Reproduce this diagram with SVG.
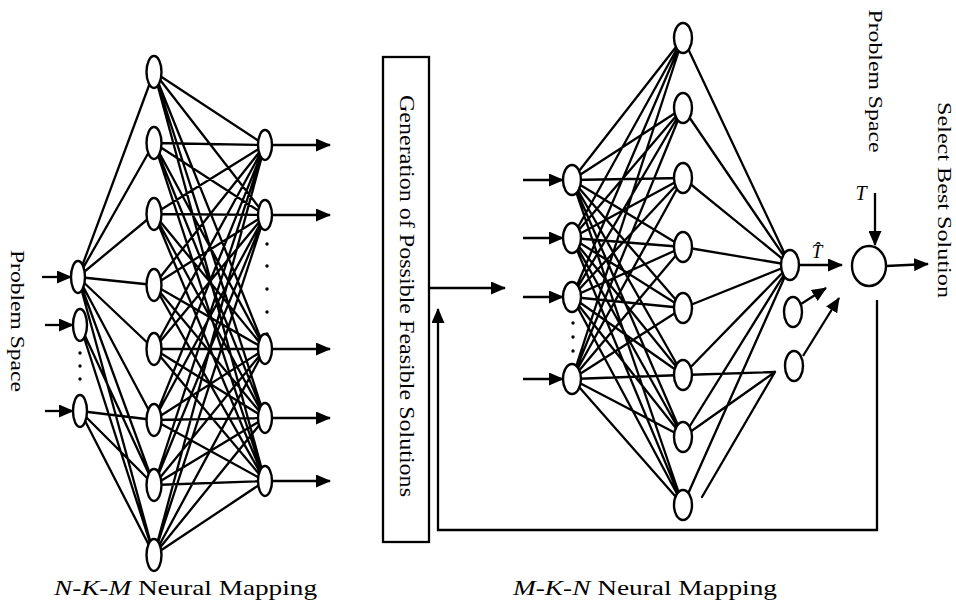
<svg xmlns="http://www.w3.org/2000/svg" width="956" height="603" viewBox="0 0 956 603">
<style>
.e{fill:none;stroke:#000;stroke-width:2.3;stroke-linecap:round}
.a{fill:none;stroke:#000;stroke-width:2.3;marker-end:url(#ah)}
.n{fill:#fff;stroke:#000;stroke-width:2.4}
.t{font-family:"Liberation Serif","Times New Roman",serif;fill:#000}
.d{fill:#000}
</style>
<defs>
<marker id="ah" markerUnits="userSpaceOnUse" markerWidth="15" markerHeight="13" refX="14" refY="6.5" orient="auto">
<path d="M0,0 L15,6.5 L0,13 z" fill="#000"/>
</marker>
</defs>
<rect width="956" height="603" fill="#fff"/>
<g id="connectors">
<path class="e" d="M78 277L154 72M78 277L154 143M78 277L154 214M78 277L154 285M78 277L154 349M78 277L154 420M78 277L154 485M78 277L154 555M80 325L154 485M80 325L154 555M80 411L154 420M80 411L154 485M80 411L154 555"/>
<path class="e" d="M154 72L265 145M154 72L265 215M154 72L265 349M154 72L265 418M154 72L265 481
M154 143L265 145M154 143L265 215M154 143L265 349M154 143L265 418M154 143L265 481
M154 214L265 145M154 214L265 215M154 214L265 349M154 214L265 418M154 214L265 481
M154 285L265 145M154 285L265 215M154 285L265 349M154 285L265 418M154 285L265 481
M154 349L265 145M154 349L265 215M154 349L265 349M154 349L265 418M154 349L265 481
M154 420L265 145M154 420L265 215M154 420L265 349M154 420L265 418M154 420L265 481
M154 485L265 145M154 485L265 215M154 485L265 349M154 485L265 418M154 485L265 481
M154 555L265 145M154 555L265 215M154 555L265 349M154 555L265 418M154 555L265 481"/>
<path class="a" d="M42 277H71"/>
<path class="a" d="M45 325H73"/>
<path class="a" d="M45 411H73"/>
<path class="a" d="M272 145H330"/>
<path class="a" d="M272 215H330"/>
<path class="a" d="M272 349H330"/>
<path class="a" d="M272 418H330"/>
<path class="a" d="M272 481H330"/>
<path class="a" d="M429 288H505"/>
<path class="e" d="M572 180L683 38M572 180L683 108M572 180L683 178M572 180L683 247M572 180L683 308M572 180L683 375M572 180L683 437M572 180L683 505
M572 238L683 38M572 238L683 108M572 238L683 178M572 238L683 247M572 238L683 308M572 238L683 375M572 238L683 437M572 238L683 505
M572 297L683 38M572 297L683 108M572 297L683 178M572 297L683 247M572 297L683 308M572 297L683 375M572 297L683 437M572 297L683 505
M572 379L683 38M572 379L683 108M572 379L683 178M572 379L683 247M572 379L683 308M572 379L683 375M572 379L683 437M572 379L683 505"/>
<path class="e" d="M683 38L790 265M683 108L790 265M683 178L790 265M683 247L790 265M683 308L790 265M683 375L790 265M683 437L790 265M683 505L790 265
M683 375L775 372M683 437L775 372M702 497L775 372"/>
<path class="a" d="M523 180H563"/>
<path class="a" d="M523 238H563"/>
<path class="a" d="M523 297H563"/>
<path class="a" d="M523 379H563"/>
<path class="a" d="M799 265H842"/>
<path class="a" d="M801 304L826 288"/>
<path class="a" d="M803 356L839 298"/>
<path class="a" d="M875 193V245"/>
<path class="a" d="M886 266L928 264"/>
<path class="a" d="M877 300V530H438V309"/>
</g>
<g id="left-inputs">
<g id="in1"><ellipse class="n" cx="78" cy="277" rx="7" ry="16"/></g>
<g id="in2"><ellipse class="n" cx="80" cy="325" rx="7" ry="16"/></g>
<g id="in3"><ellipse class="n" cx="80" cy="411" rx="7" ry="16"/></g>
<g id="in-dots"><circle class="d" cx="80" cy="353" r="1.7"/><circle class="d" cx="80" cy="366" r="1.7"/><circle class="d" cx="80" cy="379" r="1.7"/></g>
</g>
<g id="left-hidden">
<g id="h1"><ellipse class="n" cx="154" cy="72" rx="7.5" ry="16"/></g>
<g id="h2"><ellipse class="n" cx="154" cy="143" rx="7.5" ry="16"/></g>
<g id="h3"><ellipse class="n" cx="154" cy="214" rx="7.5" ry="16"/></g>
<g id="h4"><ellipse class="n" cx="154" cy="285" rx="7.5" ry="16"/></g>
<g id="h5"><ellipse class="n" cx="154" cy="349" rx="7.5" ry="16"/></g>
<g id="h6"><ellipse class="n" cx="154" cy="420" rx="7.5" ry="16"/></g>
<g id="h7"><ellipse class="n" cx="154" cy="485" rx="7.5" ry="16"/></g>
<g id="h8"><ellipse class="n" cx="154" cy="555" rx="7.5" ry="16"/></g>
</g>
<g id="left-outputs">
<g id="o1"><ellipse class="n" cx="265" cy="145" rx="7" ry="15"/></g>
<g id="o2"><ellipse class="n" cx="265" cy="215" rx="7" ry="15"/></g>
<g id="o3"><ellipse class="n" cx="265" cy="349" rx="7" ry="15"/></g>
<g id="o4"><ellipse class="n" cx="265" cy="418" rx="7" ry="15"/></g>
<g id="o5"><ellipse class="n" cx="265" cy="481" rx="7" ry="15"/></g>
<g id="out-dots"><circle class="d" cx="267" cy="244" r="1.7"/><circle class="d" cx="267" cy="266" r="1.7"/><circle class="d" cx="267" cy="289" r="1.7"/><circle class="d" cx="267" cy="312" r="1.7"/><circle class="d" cx="267" cy="334" r="1.7"/></g>
</g>
<g id="generator">
<rect x="383" y="57" width="46" height="485" fill="#fff" stroke="#000" stroke-width="2.3"/>
<text class="t" transform="translate(400,296) rotate(90)" text-anchor="middle" font-size="20" textLength="402" lengthAdjust="spacingAndGlyphs">Generation of Possible Feasible Solutions</text>
</g>
<g id="right-inputs">
<g id="ri1"><ellipse class="n" cx="572" cy="180" rx="9" ry="15"/></g>
<g id="ri2"><ellipse class="n" cx="572" cy="238" rx="9" ry="15"/></g>
<g id="ri3"><ellipse class="n" cx="572" cy="297" rx="9" ry="15"/></g>
<g id="ri4"><ellipse class="n" cx="572" cy="379" rx="9" ry="15"/></g>
<g id="ri-dots"><circle class="d" cx="573" cy="323" r="1.7"/><circle class="d" cx="573" cy="337" r="1.7"/><circle class="d" cx="573" cy="351" r="1.7"/></g>
</g>
<g id="right-hidden">
<g id="rh1"><ellipse class="n" cx="683" cy="38" rx="9" ry="15"/></g>
<g id="rh2"><ellipse class="n" cx="683" cy="108" rx="9" ry="15"/></g>
<g id="rh3"><ellipse class="n" cx="683" cy="178" rx="9" ry="15"/></g>
<g id="rh4"><ellipse class="n" cx="683" cy="247" rx="9" ry="15"/></g>
<g id="rh5"><ellipse class="n" cx="683" cy="308" rx="9" ry="15"/></g>
<g id="rh6"><ellipse class="n" cx="683" cy="375" rx="9" ry="15"/></g>
<g id="rh7"><ellipse class="n" cx="683" cy="437" rx="9" ry="15"/></g>
<g id="rh8"><ellipse class="n" cx="683" cy="505" rx="9" ry="15"/></g>
</g>
<g id="right-outputs">
<g id="ro1"><ellipse class="n" cx="790" cy="265" rx="9" ry="15"/></g>
<g id="ro2"><ellipse class="n" cx="793" cy="312" rx="9" ry="15"/></g>
<g id="ro3"><ellipse class="n" cx="794" cy="366" rx="9" ry="15"/></g>
</g>
<g id="selector">
<ellipse class="n" cx="869" cy="266" rx="17" ry="20"/>
</g>
<g id="labels">
<text class="t" x="817" y="258" font-size="19" font-style="italic" text-anchor="middle">T&#x302;</text>
<text class="t" x="861" y="200" font-size="20" font-style="italic" text-anchor="middle">T</text>
<text class="t" transform="translate(11,321) rotate(90)" text-anchor="middle" font-size="18" textLength="142" lengthAdjust="spacingAndGlyphs">Problem Space</text>
<text class="t" transform="translate(869,81) rotate(90)" text-anchor="middle" font-size="18" textLength="143" lengthAdjust="spacingAndGlyphs">Problem Space</text>
<text class="t" transform="translate(938,200) rotate(90)" text-anchor="middle" font-size="18" textLength="196" lengthAdjust="spacingAndGlyphs">Select Best Solution</text>
<text class="t" x="54" y="595" font-size="22" textLength="263" lengthAdjust="spacingAndGlyphs"><tspan font-style="italic">N-K-M</tspan> Neural Mapping</text>
<text class="t" x="513" y="595" font-size="22" textLength="264" lengthAdjust="spacingAndGlyphs"><tspan font-style="italic">M-K-N</tspan> Neural Mapping</text>
</g>
</svg>
